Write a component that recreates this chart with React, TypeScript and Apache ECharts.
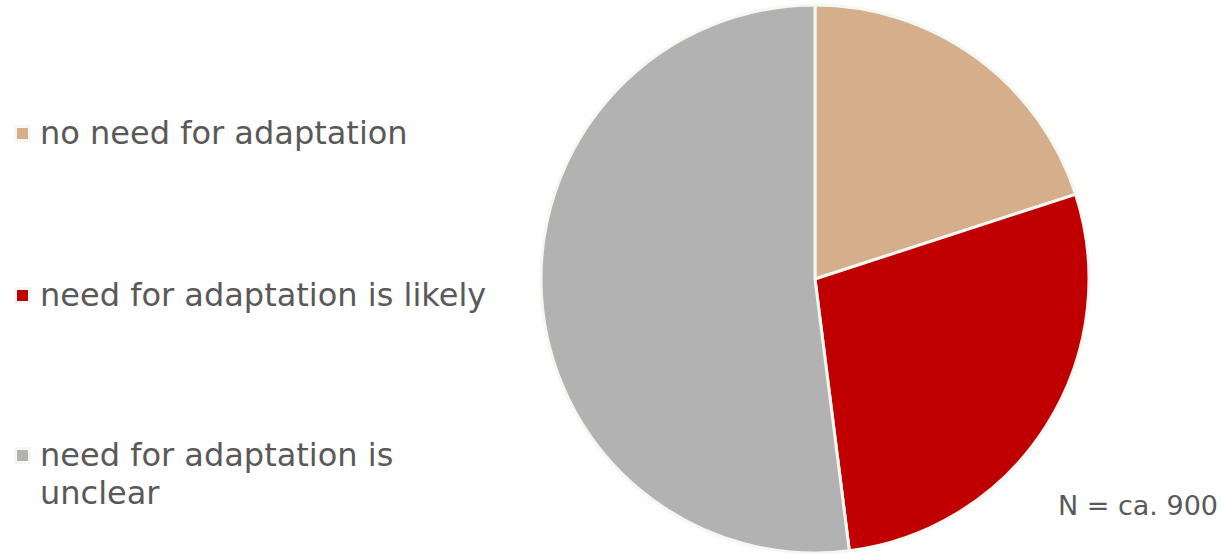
import React, { useEffect, useRef } from "react";
import * as echarts from "echarts";

const categories = [
  "no need for adaptation",
  "need for adaptation is likely",
  "need for adaptation is\nunclear",
];
const values = [20, 28, 52];
const colors = ["#D5AE8B", "#C00000", "#B2B2B2"];
const legendY = [133, 295, 455];
const note = "N = ca. 900";

export default function App() {
  const ref = useRef<HTMLDivElement>(null);
  useEffect(() => {
    if (!ref.current) return;
    const chart = echarts.init(ref.current, undefined, { renderer: "svg" });
    const font = "'DejaVu Sans', Verdana, sans-serif";
    const legendGraphics: any[] = [];
    categories.forEach((c, i) => {
      legendGraphics.push({
        type: "rect",
        shape: { x: 14, y: legendY[i] - 8, width: 17, height: 17 },
        style: { fill: "#F3F8F1" },
      });
      legendGraphics.push({
        type: "rect",
        shape: { x: 17, y: legendY[i] - 5, width: 11, height: 11 },
        style: { fill: colors[i] },
      });
      legendGraphics.push({
        type: "text",
        x: 40,
        y: legendY[i] - 19,
        style: {
          text: c,
          fill: "#595959",
          font: `32px ${font}`,
          lineHeight: 38,
          textVerticalAlign: "top",
        },
      });
    });
    chart.setOption({
      animation: false,
      backgroundColor: "#ffffff",
      series: [
        {
          type: "pie",
          center: [815, 279],
          radius: [0, 274],
          startAngle: 90,
          clockwise: true,
          label: { show: false },
          labelLine: { show: false },
          emphasis: { disabled: true },
          itemStyle: { borderColor: "#F3F8F1", borderWidth: 3 },
          data: categories.map((c, i) => ({
            name: c,
            value: values[i],
            itemStyle: { color: colors[i] },
          })),
        },
      ],
      graphic: [
        ...legendGraphics,
        {
          type: "text",
          right: 4,
          top: 492,
          style: {
            text: note,
            fill: "#595959",
            font: `27px ${font}`,
          },
        },
      ],
    });
    return () => chart.dispose();
  }, []);
  return (
    <div
      ref={ref}
      style={{ position: "fixed", left: 0, top: 0, width: 1222, height: 554 }}
    />
  );
}
